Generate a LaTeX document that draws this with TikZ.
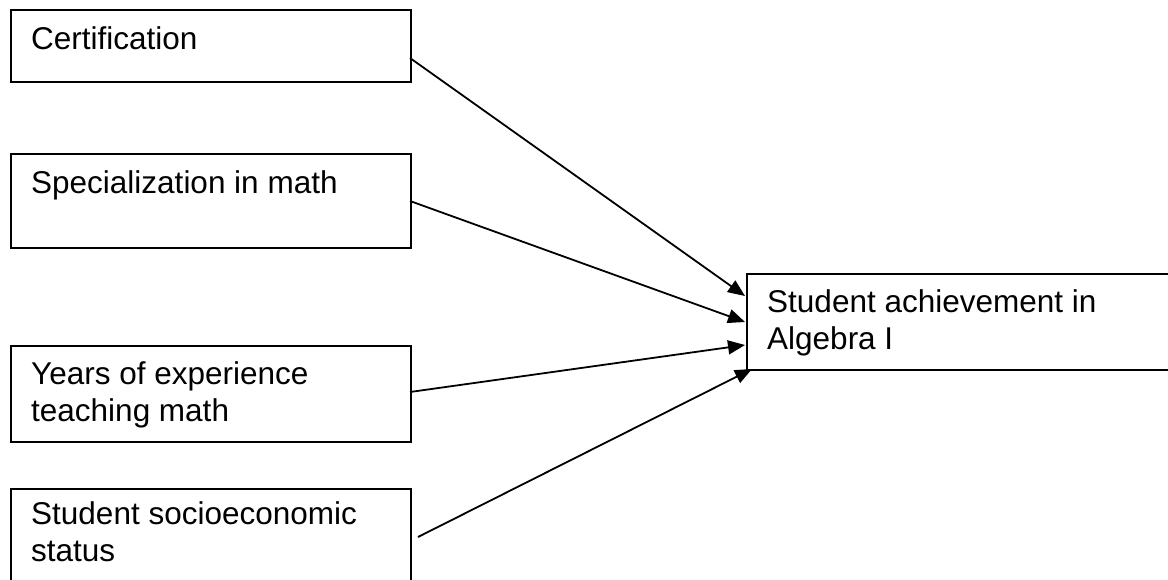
\documentclass[tikz,border=0pt]{standalone}
\usepackage{fontspec}
\setmainfont{Liberation Sans}
\usetikzlibrary{arrows.meta}
\begin{document}
\begin{tikzpicture}[x=1pt,y=-1pt,
  box/.style={draw=black,line width=2.3pt,anchor=north west,inner sep=0pt},
  lbl/.style={anchor=base west,inner sep=0pt,align=left,font=\fontsize{31.5}{36.5}\selectfont},
  conn/.style={draw=black,line width=1.8pt,-{Triangle[length=17pt,width=14pt]}}]
\useasboundingbox (0,0) rectangle (1168,579);
\clip (0,0) rectangle (1168,579);
\node[box,minimum width=400.5pt,minimum height=72pt] (b1) at (9.5,9) {};
\node[box,minimum width=400.5pt,minimum height=94pt] (b2) at (9.5,153) {};
\node[box,minimum width=400.5pt,minimum height=96pt] (b3) at (9.5,345) {};
\node[box,minimum width=400.5pt,minimum height=110pt] (b4) at (9.5,488) {};
\node[box,minimum width=430pt,minimum height=96pt] (out) at (745.5,273) {};
\node[lbl] (t1) at (31,49) {Certification};
\node[lbl] (t2) at (31,193) {Specialization in math};
\node[lbl] (t3) at (31,421) {Years of experience\\teaching math};
\node[lbl] (t4) at (31,561) {Student socioeconomic\\status};
\node[lbl] (t5) at (767,349) {Student achievement in\\Algebra I};
\coordinate (s1) at (410,58);
\coordinate (s2) at (410,201);
\coordinate (s3) at (410,392);
\coordinate (s4) at (418,537);
\coordinate (e1) at (745,296);
\coordinate (e2) at (745,322);
\coordinate (e3) at (745,345);
\coordinate (e4) at (752,369);
\draw[conn] (s1) -- (e1);
\draw[conn] (s2) -- (e2);
\draw[conn] (s3) -- (e3);
\draw[conn] (s4) -- (e4);
\end{tikzpicture}
\end{document}
